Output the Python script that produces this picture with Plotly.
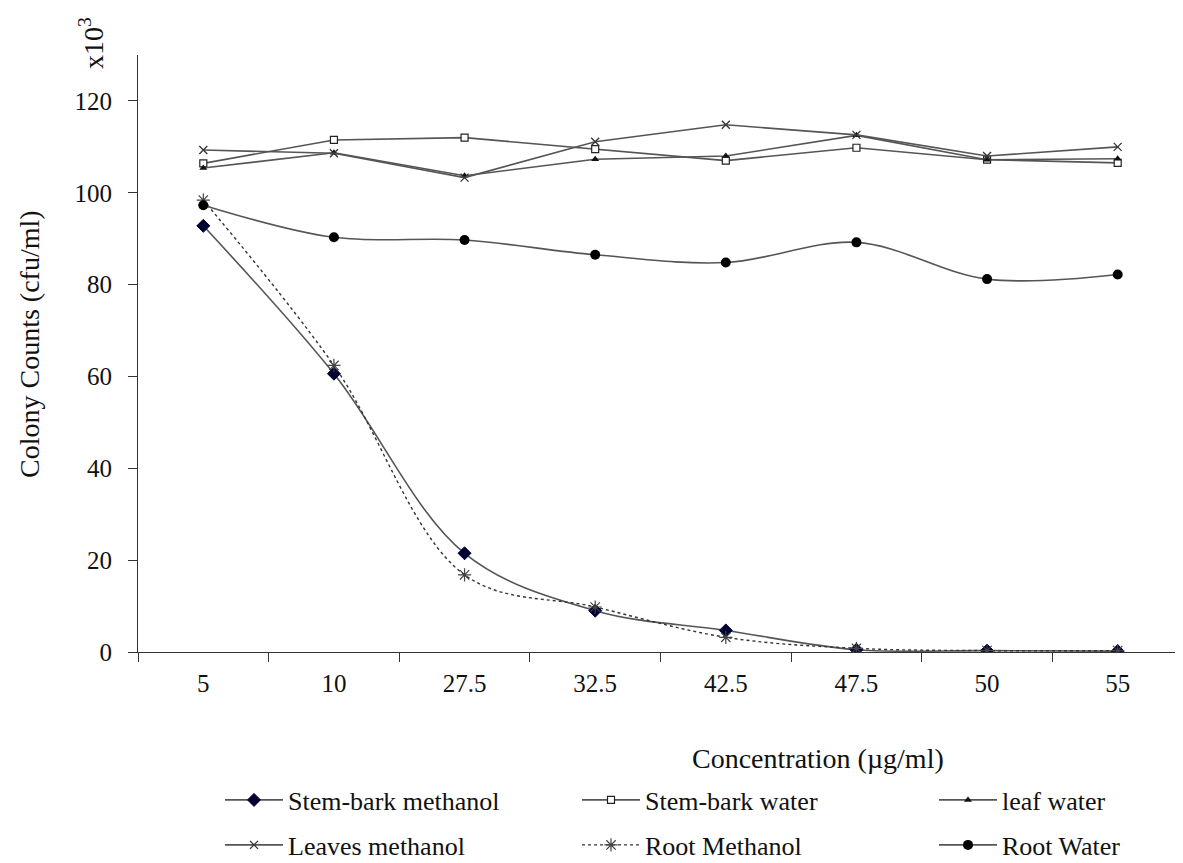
import plotly.graph_objects as go

categories = ["5", "10", "27.5", "32.5", "42.5", "47.5", "50", "55"]
stem_bark_methanol = [92.8, 60.6, 21.5, 9.0, 4.7, 0.5, 0.3, 0.2]
stem_bark_water = [106.4, 111.5, 112.0, 109.5, 107.0, 109.8, 107.2, 106.5]
leaf_water = [105.4, 108.7, 103.7, 107.3, 108.0, 112.5, 107.2, 107.4]
leaves_methanol = [109.3, 108.6, 103.3, 111.1, 114.8, 112.6, 108.0, 110.0]
root_methanol = [98.4, 62.4, 16.8, 9.8, 3.2, 0.8, 0.3, 0.3]
root_water = [97.3, 90.3, 89.7, 86.5, 84.8, 89.2, 81.2, 82.2]

series_names = ["Stem-bark methanol", "Stem-bark water", "leaf water",
                "Leaves methanol", "Root Methanol", "Root Water"]

FONT = "Liberation Serif, Times New Roman, serif"
LINE = "#555555"

fig = go.Figure()

specs = [
    (series_names[0], stem_bark_methanol, "spline", "solid",
     dict(symbol="diamond", size=10, color="#00002e", line=dict(color="#00004a", width=1)), "legend"),
    (series_names[1], stem_bark_water, "linear", "solid",
     dict(symbol="square", size=7, color="white", line=dict(color="#222222", width=1.2)), "legend2"),
    (series_names[2], leaf_water, "linear", "solid",
     dict(symbol="triangle-up", size=7, color="#111111", line=dict(color="#111111", width=0)), "legend3"),
    (series_names[3], leaves_methanol, "linear", "solid",
     dict(symbol="x-thin-open", size=8, color="#333333", line=dict(color="#333333", width=1.3)), "legend4"),
    (series_names[4], root_methanol, "spline", "dot",
     dict(symbol="asterisk-open", size=11, color="#444444", line=dict(color="#444444", width=1.2)), "legend5"),
    (series_names[5], root_water, "spline", "solid",
     dict(symbol="circle", size=10, color="#000000", line=dict(color="#000000", width=0)), "legend6"),
]

for name, vals, shape, dash, marker, leg in specs:
    fig.add_trace(go.Scatter(
        x=categories, y=vals, name=name, mode="lines+markers",
        line=dict(color="#333333" if dash == "dot" else LINE, width=1.4 if dash == "dot" else 1.6,
                  shape=shape, dash=dash, smoothing=1.0),
        marker=marker, legend=leg,
    ))

# The page body has an 8px margin, so figure coords = screen coords - 8
OFF = 8
W, H = 1183, 863
L = 138 - OFF
T = 55 - OFF
R = OFF
B = H - (652 - OFF)
pw = W - L - R
ph = H - T - B


def px(xs):
    return (xs - OFF - L) / pw


def py(ys):
    return (H - B - (ys - OFF)) / ph


leg_common = dict(orientation="h", xanchor="left", yanchor="middle", itemwidth=58,
                  font=dict(family=FONT, size=26, color="#111111"),
                  bgcolor="rgba(0,0,0,0)", borderwidth=0, itemclick=False)

col_x = [220, 577, 934]
row_y = [800, 845]
legends = {}
keys = ["legend", "legend2", "legend3", "legend4", "legend5", "legend6"]
for i, k in enumerate(keys):
    legends[k] = dict(leg_common, x=px(col_x[i % 3]), y=py(row_y[i // 3]))

fig.update_layout(
    width=W, height=H,
    margin=dict(l=L, r=R, t=T, b=B, autoexpand=False),
    paper_bgcolor="white", plot_bgcolor="white",
    font=dict(family=FONT, size=25, color="#111111"),
    showlegend=True,
    **legends,
    xaxis=dict(
        type="category", categoryorder="array", categoryarray=categories,
        showgrid=False, zeroline=False, showline=True, linecolor="#333333", linewidth=1.2,
        ticks="outside", ticklen=9, tickcolor="#333333", tickwidth=1.2, tickson="boundaries",
        ticklabelstandoff=9, automargin=False,
        tickfont=dict(family=FONT, size=25, color="#111111"),
        range=[-0.5, 7.5],
    ),
    yaxis=dict(
        range=[0, 130], dtick=20, tick0=0,
        showgrid=False, zeroline=False, showline=True, linecolor="#333333", linewidth=1.2,
        ticks="outside", ticklen=9, tickcolor="#333333", tickwidth=1.2,
        ticklabelstandoff=11, automargin=False,
        tickfont=dict(family=FONT, size=25, color="#111111"),
    ),
    annotations=[
        dict(text="Colony Counts (cfu/ml)", x=px(29), y=py(344), xref="paper", yref="paper",
             showarrow=False, textangle=-90, font=dict(family=FONT, size=28, color="#111111"),
             xanchor="center", yanchor="middle"),
        dict(text="Concentration (µg/ml)", x=px(818), y=py(758), xref="paper", yref="paper",
             showarrow=False, font=dict(family=FONT, size=28, color="#111111"),
             xanchor="center", yanchor="middle"),
        dict(text="x10<sup>3</sup>", x=px(92), y=py(43), xref="paper", yref="paper",
             showarrow=False, textangle=-90, font=dict(family=FONT, size=28, color="#111111"),
             xanchor="center", yanchor="middle"),
    ],
)

fig.write_html("out.html")
